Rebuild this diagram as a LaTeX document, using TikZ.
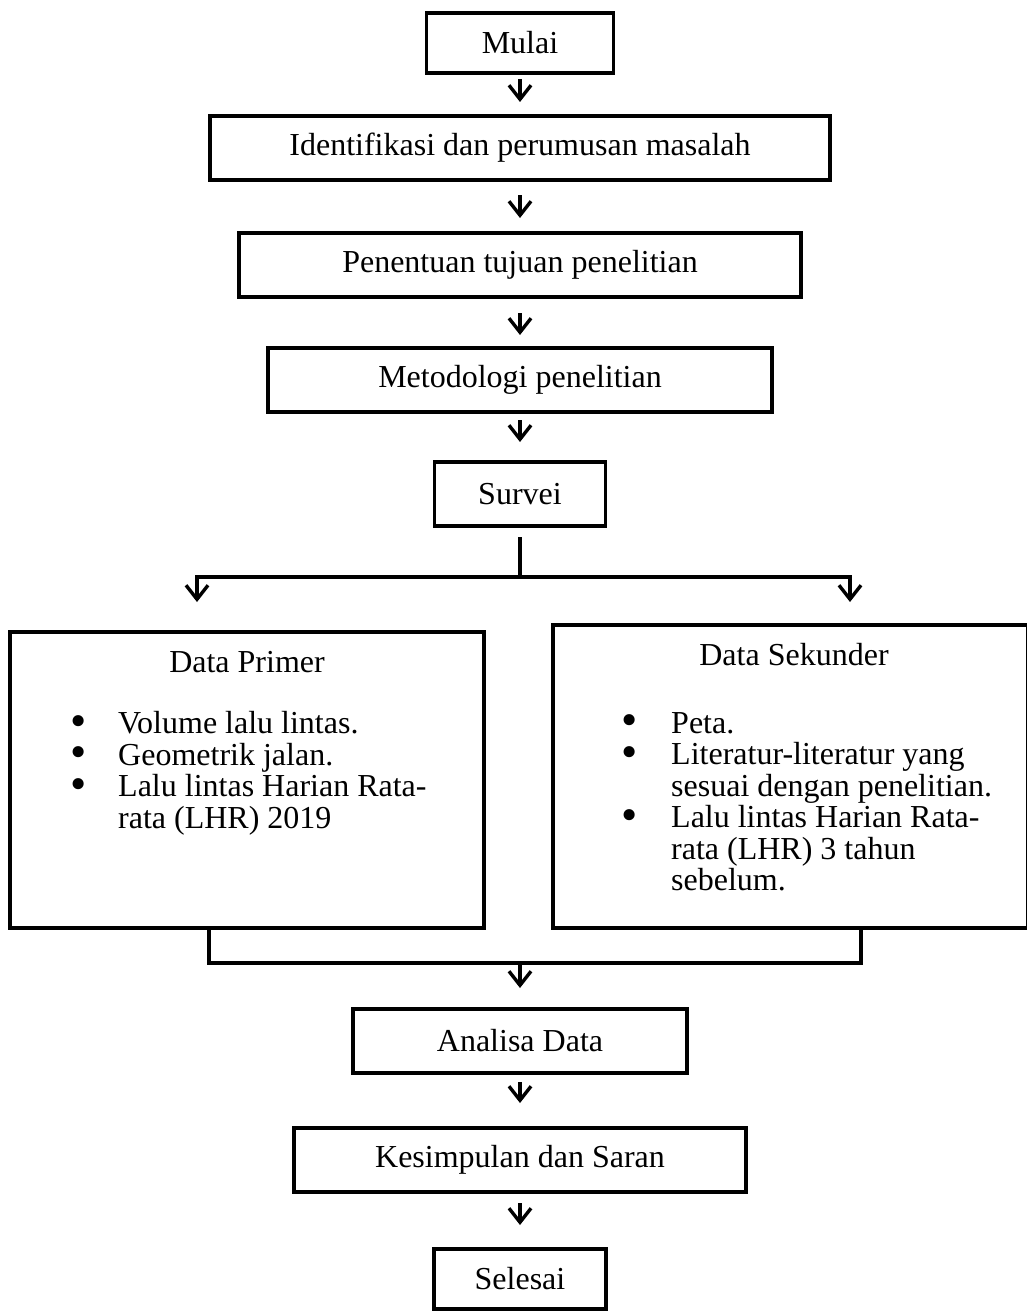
\documentclass[tikz,border=0pt]{standalone}
\usepackage{fontspec}
\usepackage{graphicx}
\setmainfont{Liberation Serif}
\usetikzlibrary{arrows.meta,positioning}

\newcommand{\titik}{\raisebox{-2.5pt}{\scalebox{1.45}{\textbullet}}}

\begin{document}
\begin{tikzpicture}[x=1pt,y=-1pt,node distance=50pt,>={Straight Barb[length=14pt,width=22pt]},every node/.append style={align=center,font=\fontsize{32}{31}\selectfont},box/.style={draw, line width=3.5pt, outer sep=0pt, inner sep=0pt, minimum height=64pt},garis/.style={line width=3.5pt, line join=miter},panah/.style={->, line width=3.4pt}]
    \useasboundingbox (0,0) rectangle (1026,1311);

    \node [box, minimum width=187pt, minimum height=60pt] (mulai) at (520,43) {Mulai};
    \node [box, minimum width=620pt, below=43pt of mulai] (identifikasi) {Identifikasi dan perumusan masalah};
    \node [box, minimum width=562pt, below=53pt of identifikasi] (penentuan) {Penentuan tujuan penelitian};
    \node [box, minimum width=504pt, below=51pt of penentuan] (metodologi) {Metodologi penelitian};
    \node [box, minimum width=171pt, below=50pt of metodologi] (survei) {Survei};

    \coordinate (kiri) at (197,577);
    \coordinate (kanan) at (850,577);

    \node [box, minimum width=474pt, minimum height=296pt] (primer) at (247,780) {};
    \node [box, minimum width=475pt, minimum height=303pt] (sekunder) at (790.5,776.5) {};

    \node [anchor=base] (judulprimer) at (247,672) {Data Primer};
    \node [anchor=base] (judulsekunder) at (794,665) {Data Sekunder};

    \node [anchor=north west, inner sep=0pt] (isiprimer) at (70.4,711.3) {\begin{tabular}{@{}p{47.6pt}@{}l@{}}
        \titik & Volume lalu lintas.\\
        \titik & Geometrik jalan.\\
        \titik & Lalu lintas Harian Rata-\\
               & rata (LHR) 2019
      \end{tabular}};
    \node [anchor=north west, inner sep=0pt] (isisekunder) at (621.4,711.3) {\begin{tabular}{@{}p{49.6pt}@{}l@{}}
        \titik & Peta.\\
        \titik & Literatur-literatur yang\\
               & sesuai dengan penelitian.\\
        \titik & Lalu lintas Harian Rata-\\
               & rata (LHR) 3 tahun\\
               & sebelum.
      \end{tabular}};

    \coordinate (bawahkiri) at (209,963);
    \coordinate (bawahkanan) at (861,963);
    \coordinate (gabung) at (520,963);

    \node [box, minimum width=334pt, below=46pt of gabung] (analisa) {Analisa Data};
    \node [box, minimum width=452pt, below=55pt of analisa] (kesimpulan) {Kesimpulan dan Saran};
    \node [box, minimum width=172pt, minimum height=60pt, below=57pt of kesimpulan] (selesai) {Selesai};

    % panah utama
    \draw [panah, shorten <=6pt, shorten >=14pt] (mulai) -- (identifikasi);
    \draw [panah, shorten <=15pt, shorten >=15pt] (identifikasi) -- (penentuan);
    \draw [panah, shorten <=16pt, shorten >=13pt] (penentuan) -- (metodologi);
    \draw [panah, shorten <=8pt, shorten >=20pt] (metodologi) -- (survei);

    % percabangan
    \draw [garis, shorten <=11pt] (survei) -- (survei |- kiri);
    \draw [garis, line cap=rect] (kiri) -- (kanan);
    \draw [panah, shorten >=30pt] (kiri) -- (kiri |- primer.north);
    \draw [panah, shorten >=23pt] (kanan) -- (kanan |- sekunder.north);

    \draw [garis] (primer.south -| bawahkiri) -- (bawahkiri) -- (bawahkanan) -- (sekunder.south -| bawahkanan);
    \draw [panah, shorten >=21pt] (gabung) -- (analisa);

    \draw [panah, shorten <=9pt, shorten >=25pt] (analisa) -- (kesimpulan);
    \draw [panah, shorten <=11pt, shorten >=24pt] (kesimpulan) -- (selesai);
\end{tikzpicture}
\end{document}
